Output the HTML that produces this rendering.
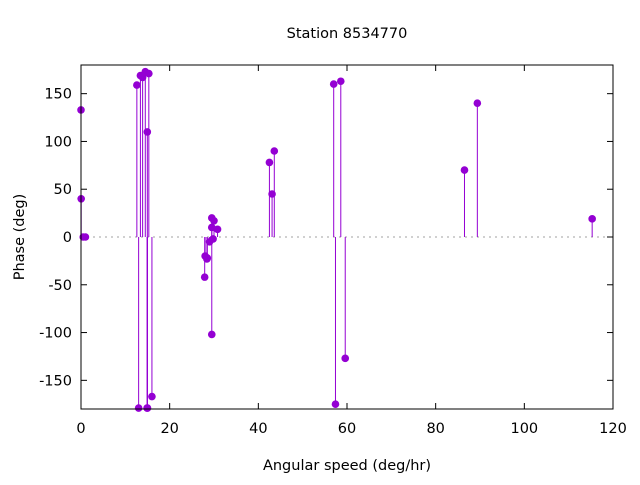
<!DOCTYPE html>
<html><head><meta charset="utf-8"><style>
body{margin:0;background:#fff;}
svg text{font-family:"DejaVu Sans","Liberation Sans",sans-serif;font-size:14.5px;fill:#000;}
</style></head><body>
<svg id="chart" width="640" height="480" xmlns="http://www.w3.org/2000/svg">
<rect width="640" height="480" fill="#fff"/>
<text x="347" y="38" text-anchor="middle">Station 8534770</text>
<text x="347" y="470" text-anchor="middle">Angular speed (deg/hr)</text>
<text transform="translate(24,237) rotate(-90)" text-anchor="middle">Phase (deg)</text>
<g id="axes"></g>
<g id="marks"></g>
<rect x="81" y="65" width="532" height="344" fill="none" stroke="#000" stroke-width="1"/>
</svg>
<script>
const speeds=[0,0.04,0.5,1,12.6,13.4,13.0,13.9,14.5,14.9,14.96,15.0,15.3,16.0,27.9,28.0,28.4,28.5,29.0,29.5,29.5,30.0,30.8,29.8,29.5,42.5,43.1,43.6,57.0,57.4,58.6,59.6,86.5,89.4,115.3];
const phases=[133,40,0,0,159,169,-179,167,173,-179,110,-179,171,-167,-42,-20,-23,-22,-5,10,20,17,8,-2,-102,78,45,90,160,-175,163,-127,70,140,19];
const xTicks=[0,20,40,60,80,100,120];
const yTicks=[-150,-100,-50,0,50,100,150];
const L=81,R=613,T=65,B=409;
const xs=v=>L+(v-0)/120*(R-L);
const ys=v=>237-v*(B-T)/360;
const NS="http://www.w3.org/2000/svg";
const ax=document.getElementById('axes'),mk=document.getElementById('marks');
function el(t,a,p){const e=document.createElementNS(NS,t);for(const k in a)e.setAttribute(k,a[k]);p.appendChild(e);return e;}
const z=el('line',{x1:L,x2:R,y1:ys(0),y2:ys(0),stroke:'#a0a0a0','stroke-dasharray':'2,4'},ax);


xTicks.forEach(v=>{
  const x=xs(v);
  el('line',{x1:x,x2:x,y1:B,y2:B-6,stroke:'#000'},ax);
  el('line',{x1:x,x2:x,y1:T,y2:T+6,stroke:'#000'},ax);
  const t=el('text',{x:x,y:B+24,'text-anchor':'middle'},ax);t.textContent=v;
  
  
});
yTicks.forEach(v=>{
  const y=ys(v);
  el('line',{x1:L,x2:L+6,y1:y,y2:y,stroke:'#000'},ax);
  el('line',{x1:R,x2:R-6,y1:y,y2:y,stroke:'#000'},ax);
  const t=el('text',{x:L-9,y:y+5,'text-anchor':'end'},ax);t.textContent=v;
  
  
});
speeds.forEach((s,i)=>{
  const x=xs(s),y=ys(phases[i]);
  const ln=el('line',{x1:x,x2:x,y1:ys(0),y2:y,stroke:'#9400d3','stroke-width':1},mk);
  
  
  const c=el('circle',{cx:x,cy:y,r:3.8,fill:'#9400d3'},mk);
  
  
});
</script>
</body></html>
